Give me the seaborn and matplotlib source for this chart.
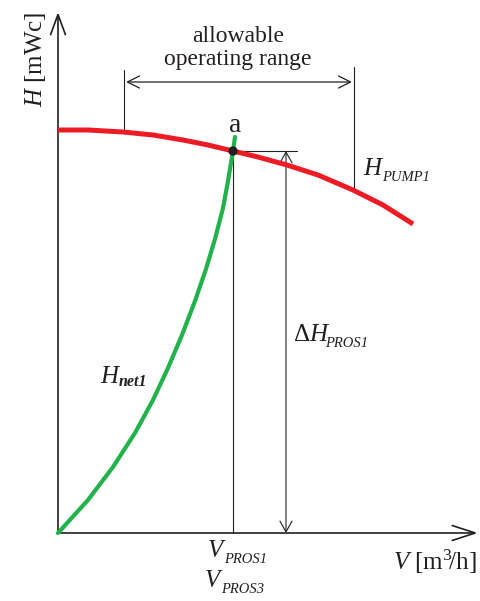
import numpy as np
import pandas as pd
import matplotlib
matplotlib.use('Agg')
import matplotlib.pyplot as plt
from matplotlib.patches import FancyArrowPatch
import seaborn as sns

# pump characteristic H_PUMP1 (flow, head)
pump_v = [0, 30, 65, 95, 125, 150, 175, 200, 229, 260, 295, 325, 355]
pump_h = [403, 403, 401, 398, 393, 388, 382, 376, 368, 358, 343, 328, 309]

# network characteristic H_net1
net_v = [0, 30, 55, 77, 95, 110, 124, 137, 148, 157, 165, 170, 175, 177]
net_h = [0, 33, 66, 100, 133, 165, 198, 232, 264, 294, 325, 352, 382, 396]

# operating point a and allowable range
op_v, op_h = 175, 382
range_lo, range_hi = 66, 296
range_h = 451

INK = '#231f20'
RED = '#ed1c24'
GREEN = '#21b24b'

sns.set_theme(style='white')
plt.rcParams['font.family'] = ['Liberation Serif', 'DejaVu Serif']
plt.rcParams['mathtext.fontset'] = 'custom'
plt.rcParams['mathtext.rm'] = 'Liberation Serif'
plt.rcParams['mathtext.it'] = 'Liberation Serif:italic'
plt.rcParams['mathtext.bf'] = 'Liberation Serif:bold'

fig = plt.figure(figsize=(4.8, 6.01), dpi=100)
ax = fig.add_axes([0, 0, 1, 1])
ax.set_xlim(-58, 422)
ax.set_ylim(-68, 533)
ax.axis('off')


def arrow(p0, p1, style, lw, hl, hw):
    a = FancyArrowPatch(p0, p1, arrowstyle=f'{style},head_length={hl},head_width={hw}',
                        mutation_scale=1, lw=lw, color=INK, shrinkA=0, shrinkB=0,
                        joinstyle='miter', capstyle='butt')
    ax.add_patch(a)


def sub_label(x, y, main, sub, drop=0.7, dx=0.5, size=18, sub_size=10.5, sub_weight='normal'):
    # subscript hangs from the bottom-right corner of the main letter
    t = ax.text(x, y, main, fontsize=size, fontstyle='italic', color=INK,
                ha='left', va='baseline')
    ax.annotate(sub, xy=(1, 0), xycoords=t, xytext=(dx, -drop), textcoords='offset points',
                fontsize=sub_size, fontstyle='italic', fontweight=sub_weight, color=INK,
                ha='left', va='baseline')


# coordinate axes
arrow((0, 0), (0, 521), '->', 1.2, 15, 5.5)
arrow((0, 0), (420, 0), '->', 1.2, 17, 5.5)

# thin helper lines at the operating point
ax.plot([op_v, op_v], [0, op_h], color=INK, lw=0.8)
ax.plot([op_v, 239], [op_h, op_h], color=INK, lw=0.8)
arrow((228, 0), (228, op_h), '<->', 0.8, 8, 4.5)

# allowable operating range
lo_h = np.interp(range_lo, pump_v, pump_h)
hi_h = np.interp(range_hi, pump_v, pump_h)
ax.plot([range_lo, range_lo], [lo_h, 463], color=INK, lw=0.8)
ax.plot([range_hi, range_hi], [hi_h, 466], color=INK, lw=0.8)
arrow((range_lo + 2, range_h), (range_hi - 2, range_h), '<->', 0.9, 9, 4.5)

# curves
pump = pd.DataFrame({'V': pump_v, 'H': pump_h})
sns.lineplot(data=pump, x='V', y='H', sort=False, estimator=None, ax=ax,
             color=RED, lw=3.6, solid_capstyle='butt')
net = pd.DataFrame({'V': net_v, 'H': net_h})
sns.lineplot(data=net, x='V', y='H', sort=False, estimator=None, ax=ax,
             color=GREEN, lw=3.0, solid_capstyle='round', solid_joinstyle='round')
sns.scatterplot(x=[op_v], y=[op_h], ax=ax, color=INK, s=45, zorder=5, edgecolor='none')

# labels
ax.text(op_v + 2, 401, 'a', fontsize=20, color=INK, ha='center', va='baseline')
ax.text(180, 491, 'allowable', fontsize=17, color=INK, ha='center', va='baseline')
ax.text(180, 468, 'operating range', fontsize=17, color=INK, ha='center', va='baseline')
sub_label(305, 358, 'H', 'PUMP1', drop=1.0)
sub_label(235, 192, r'$\Delta H$', 'PROS1', drop=0.7, dx=-3.5)
sub_label(42, 150, 'H', 'net1', drop=-1.2, sub_size=11.5, sub_weight='bold')
sub_label(150, -24, 'V', 'PROS1', drop=0.7)
sub_label(147, -54, 'V', 'PROS3', drop=0.7)
ax.text(335, -37, r'$V\ \mathrm{[m^{3}\!/h]}$', fontsize=18, color=INK, ha='left', va='baseline')
ax.text(-22, 474, r'$H\ \mathrm{[mWc]}$', fontsize=18, color=INK, rotation=90,
        ha='center', va='center')

fig.savefig('out.png', dpi=100)
